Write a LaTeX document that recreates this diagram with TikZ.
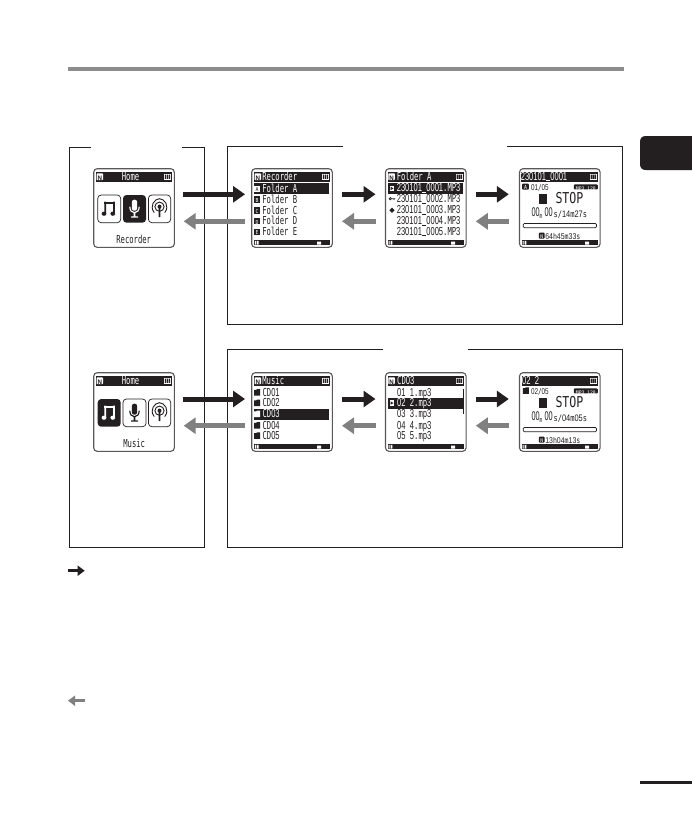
\documentclass[tikz,border=0pt]{standalone}
\usepackage{fontspec}
\usetikzlibrary{arrows.meta,calc}
\setmainfont{Liberation Sans}
\newfontfamily\lcdfam{DejaVu Sans Mono}
\newfontfamily\lcddig[Scale=1.05]{Liberation Sans}
\newcommand\D[1]{{\lcddig #1}}
\newcommand\us{\kern.05em\rule[-.5pt]{.5em}{.8pt}\kern.05em}
\newcommand\lcdsz[1]{\fontsize{#1}{#1}\selectfont\lcdfam}
\definecolor{ink}{HTML}{231F20}
\definecolor{midgray}{HTML}{808080}
\definecolor{rulegray}{HTML}{8C8C8C}
\newcounter{lcdn}
\tikzset{
  panel/.style={draw=ink,line width=0.8pt},
  screen/.style={draw=ink!75,line width=1.1pt,fill=white,rounded corners=3.5pt,minimum width=80.6pt,minimum height=78.6pt,inner sep=0pt,outer sep=0pt},
  lcdt/.style={inner sep=0pt,outer sep=0pt,anchor=mid west,yshift=-1pt,xscale=.655,text=ink,font=\lcdsz{11}},
  lcdc/.style={anchor=mid},
  onblack/.style={text=white},
  blkarr/.style={draw=ink,line width=5pt,-{Triangle[length=12pt,width=16pt]}},
  gryarr/.style={draw=midgray,line width=5pt,-{Triangle[length=12pt,width=16pt]}},
  blkleg/.style={draw=ink,line width=3.5pt,-{Triangle[length=7pt,width=10pt]}},
  gryleg/.style={draw=midgray,line width=3.5pt,-{Triangle[length=7pt,width=10pt]}},
  tile/.style={draw=ink,line width=.7pt,rounded corners=3.5pt},
}
% text placed inside a screen (xscale given in the options multiplies the base)
\newcommand\lcd[4][]{\stepcounter{lcdn}\node[lcdt,#1] (lcd\thelcdn) at (#2,#3) {#4};}
% N badge
\newcommand\nbadge[2]{\fill[white,rounded corners=.8pt] (#1,#2-3.4) rectangle (#1+6.6,#2+3.4);
  \lcd[lcdc,xscale=1.45,yshift=.3pt,font=\fontsize{6.5}{6.5}\selectfont\bfseries]{#1+3.3}{#2}{N}}
\newcommand\battery{\fill[white] (70,5) rectangle (77.4,11.2);
  \fill[ink] (71.2,6) rectangle (72.5,10.2) (73.2,6) rectangle (74.5,10.2) (75.2,6) rectangle (76.5,10.2);}
% title bar + battery
\newcommand\titlebar{\fill[ink] (2.3,3) rectangle (78,13.2);
  \nbadge{2.8}{8}
  \battery}
% bottom bar
\newcommand\botbar{\fill[ink] (2.3,71) rectangle (78,76.7);
  \fill[white] (3.2,72.2) rectangle (4.2,75.8) (5,72.2) rectangle (6.8,75.8) (65.5,73) rectangle (69.5,75.8);}
% letter icon for folders
\newcommand\letterbox[4]{\fill[#3] (2.4,#1-3.2) rectangle (8.3,#1+3.2);
  \lcd[lcdc,xscale=1.35,yshift=.4pt,font=\lcdsz{5.5},text=#4]{5.35}{#1}{#2}}
% little folder icon
\newcommand\foldicon[3]{\fill[#3] (#1,#2-2.6) -- (#1+2.2,#2-2.6) -- (#1+3,#2-3.4) -- (#1+6,#2-3.4) -- (#1+6,#2+3.2) -- (#1,#2+3.2) -- cycle;}
% home screen icons
\newcommand\noteicon[3]{\begin{scope}[shift={(#1,#2)}]
  \fill[#3] (-5,-7) rectangle (5.5,-4.4);
  \fill[#3] (-5,-7) rectangle (-3.3,5) (3.8,-7) rectangle (5.5,5);
  \fill[#3] (-5.4,5) ellipse (2.4 and 2.1) (3.4,5) ellipse (2.4 and 2.1);
\end{scope}}
\newcommand\micicon[3]{\begin{scope}[shift={(#1,#2)}]
  \fill[#3,rounded corners=2.4pt] (-2.7,-8) rectangle (2.7,3);
  \draw[#3,line width=1.2pt] (-4.7,-1) .. controls (-4.7,7) and (4.7,7) .. (4.7,-1);
  \fill[#3] (-.8,5) rectangle (.8,9) (-3.5,8.6) rectangle (3.5,10);
\end{scope}}
\newcommand\podicon[3]{\begin{scope}[shift={(#1,#2)}]
  \draw[#3,line width=.9pt] (0,-1.5) circle (4.6);
  \draw[#3,line width=.9pt] (-5.2,4.4) .. controls (-10.5,-2) and (-5,-9.5) .. (0,-9.5) .. controls (5,-9.5) and (10.5,-2) .. (5.2,4.4);
  \fill[#3] (0,-1.6) circle (2);
  \fill[#3] (-1,0) -- (1,0) -- (.9,9) -- (-.9,9) -- cycle;
\end{scope}}
% list rows
\def\rowa{20}\def\rowb{30.7}\def\rowc{41.7}\def\rowd{52.3}\def\rowe{63}
% stop screen body
\newcommand\stopbody[3]{%
  \lcd[font=\lcdsz{8},xscale=1.15]{11.5}{18}{#1}
  \fill[ink,rounded corners=1pt] (54.3,15.7) rectangle (78.4,20.7);
  \lcd[lcdc,font=\lcdsz{5},xscale=1.45,yshift=.5pt,text=white]{66.3}{18.2}{MP\D{3} \D{128}}
  \fill[ink] (19.7,25.3) rectangle (27,35.3);
  \lcd[font=\lcdsz{15},xscale=1.18,yshift=-.4pt]{36}{30.3}{STOP}
  \lcd[font=\lcdsz{12},xscale=.89]{12}{44.3}{\D{00}}
  \lcd[font=\lcdsz{7},xscale=1]{20.2}{45.7}{m}
  \lcd[font=\lcdsz{12},xscale=.89]{25}{44.3}{\D{00}}
  \lcd[font=\lcdsz{9},xscale=1.2]{34}{45}{#2}
  \draw[ink,line width=.7pt,rounded corners=1.2pt] (3.7,54.7) rectangle (77,59);
  \fill[ink,rounded corners=1pt] (19.3,63.8) rectangle (25.2,70);
  \lcd[lcdc,font=\lcdsz{5},xscale=1.45,yshift=.5pt,text=white]{22.2}{67}{N}
  \lcd[font=\lcdsz{8},xscale=1.26]{25.8}{67}{#3}
  \botbar}
\begin{document}
\begin{tikzpicture}[x=1pt,y=-1pt]
\useasboundingbox (0,0) rectangle (692,839);
% page furniture
\fill[rulegray] (68,67) rectangle (624,71);
\fill[ink] (692,136) -- (646,136) .. controls (642,136) and (640,138) .. (640,142) -- (640,164) .. controls (640,168) and (642,170) .. (646,170) -- (692,170) -- cycle;
\fill[ink] (640,780.5) rectangle (692,783.5);
% panels
\draw[panel] (90.7,147.3) -- (69.3,147.3) -- (69.3,547.3) -- (204.7,547.3) -- (204.7,147.3) -- (182,147.3);
\draw[panel] (342.7,146) -- (227.3,146) -- (227.3,324) -- (622.3,324) -- (622.3,146) -- (506.7,146);
\draw[panel] (383,349.3) -- (227.3,349.3) -- (227.3,547.3) -- (622.3,547.3) -- (622.3,349.3) -- (468,349.3);
% screens
\node[screen] (homeR) at (134,208) {};
\node[screen] (folders) at (292,208) {};
\node[screen] (files) at (425.8,208) {};
\node[screen] (stopR) at (559.8,208) {};
\node[screen] (homeM) at (134,412) {};
\node[screen] (discs) at (292,412) {};
\node[screen] (tracks) at (425.8,412) {};
\node[screen] (stopM) at (559.8,412) {};
% Home / Recorder
\begin{scope}[shift={(homeR.north west)}]
  \titlebar
  \lcd[lcdc,onblack]{36.8}{8}{Home}
  \draw[tile] (4,26.3) rectangle (27,54);
  \fill[ink,rounded corners=3.5pt] (29.3,26.3) rectangle (52.3,54);
  \draw[tile] (54.7,26.3) rectangle (77,54);
  \noteicon{15.7}{40}{ink}
  \micicon{40.8}{39}{white}
  \podicon{65.8}{39.5}{ink}
  \lcd[lcdc]{40}{70.7}{Recorder}
\end{scope}
% Home / Music
\begin{scope}[shift={(homeM.north west)}]
  \titlebar
  \lcd[lcdc,onblack]{36.8}{8}{Home}
  \fill[ink,rounded corners=3.5pt] (4,26.3) rectangle (27,54);
  \draw[tile] (29.3,26.3) rectangle (52.3,54);
  \draw[tile] (54.7,26.3) rectangle (77,54);
  \noteicon{15.7}{40}{white}
  \micicon{40.8}{39}{ink}
  \podicon{65.8}{39.5}{ink}
  \lcd[lcdc]{40.5}{70.7}{Music}
\end{scope}
% Recorder folders
\begin{scope}[shift={(folders.north west)}]
  \titlebar
  \lcd[onblack]{10.7}{8}{Recorder}
  \fill[ink] (2.3,14.7) rectangle (77,25.3);
  \letterbox{\rowa}{A}{white}{ink}
  \lcd[onblack]{10.7}{\rowa}{Folder A}
  \letterbox{\rowb}{B}{ink}{white}\lcd{10.7}{\rowb}{Folder B}
  \letterbox{\rowc}{C}{ink}{white}\lcd{10.7}{\rowc}{Folder C}
  \letterbox{\rowd}{D}{ink}{white}\lcd{10.7}{\rowd}{Folder D}
  \letterbox{\rowe}{E}{ink}{white}\lcd{10.7}{\rowe}{Folder E}
  \botbar
\end{scope}
% Folder A files
\begin{scope}[shift={(files.north west)}]
  \titlebar
  \lcd[onblack]{11.3}{8}{Folder A}
  \fill[ink] (2.3,14.2) rectangle (77.5,25);
  \fill[white] (4,17) rectangle (8.8,22.5);
  \fill[ink] (5,18) -- (8,19.7) -- (5,21.5) -- cycle;
  \lcd[onblack]{11.3}{19.6}{\D{230101}\us\D{0001}.MP\D{3}}
  \lcd{11.3}{30.5}{\D{230101}\us\D{0002}.MP\D{3}}
  \draw[ink,line width=.7pt] (4.8,30) circle (1.2) (6,30) -- (9.5,30) (8.5,30) -- (8.5,31.5);
  \lcd{11.3}{41.5}{\D{230101}\us\D{0003}.MP\D{3}}
  \fill[ink] (6.5,38.8) -- (9.2,41.5) -- (6.5,44.2) -- (3.8,41.5) -- cycle;
  \lcd{11.3}{52.5}{\D{230101}\us\D{0004}.MP\D{3}}
  \lcd{11.3}{63}{\D{230101}\us\D{0005}.MP\D{3}}
  \botbar
\end{scope}
% Recorder stop
\begin{scope}[shift={(stopR.north west)}]
  \fill[ink] (1.3,3) rectangle (78,13.2);
  \battery
  \lcd[onblack]{1.3}{8}{\D{230101}\us\D{0001}}
  \fill[ink,rounded corners=.8pt] (2.7,14.8) rectangle (9.3,21);
  \lcd[lcdc,font=\lcdsz{5.5},xscale=1.35,yshift=.4pt,text=white]{6}{18}{A}
  \stopbody{\D{01}/\D{05}}{s/\D{14}m\D{27}s}{\D{64}h\D{45}m\D{33}s}
\end{scope}
% Music folders
\begin{scope}[shift={(discs.north west)}]
  \titlebar
  \lcd[onblack]{10.7}{8}{Music}
  \foldicon{2.4}{19.7}{ink}\lcd{10.9}{19.7}{CD\D{01}}
  \foldicon{2.4}{30.3}{ink}\lcd{10.9}{30.3}{CD\D{02}}
  \fill[ink] (2.3,35.8) rectangle (77,47);
  \foldicon{2.4}{41.3}{white}\lcd[onblack]{10.9}{41.3}{CD\D{03}}
  \foldicon{2.4}{52.7}{ink}\lcd{10.9}{52.7}{CD\D{04}}
  \foldicon{2.4}{63}{ink}\lcd{10.9}{63}{CD\D{05}}
  \botbar
\end{scope}
% CD03 tracks
\begin{scope}[shift={(tracks.north west)}]
  \titlebar
  \lcd[onblack]{11.7}{8}{CD\D{03}}
  \lcd{11.7}{19.7}{\D{01} \D{1}.mp\D{3}}
  \fill[ink] (2.3,25) rectangle (77,36);
  \fill[white] (4,27.7) rectangle (8.8,33);
  \fill[ink] (5,28.7) -- (8,30.3) -- (5,32) -- cycle;
  \lcd[onblack]{11.7}{30.3}{\D{02} \D{2}.mp\D{3}}
  \lcd{11.7}{41.3}{\D{03} \D{3}.mp\D{3}}
  \lcd{11.7}{52.7}{\D{04} \D{4}.mp\D{3}}
  \lcd{11.7}{63}{\D{05} \D{5}.mp\D{3}}
  \fill[ink] (77.6,16.7) rectangle (78.4,41);
  \botbar
\end{scope}
% Music stop
\begin{scope}[shift={(stopM.north west)}]
  \fill[ink] (2.3,3) rectangle (78,13.2);
  \battery
  \lcd[onblack]{2.7}{8}{\D{02} \D{2}}
  \foldicon{3.4}{18}{ink}
  \stopbody{\D{02}/\D{05}}{s/\D{04}m\D{05}s}{\D{13}h\D{04}m\D{13}s}
\end{scope}
% arrows
\draw[blkarr] ([shift={(8.7,-13.7)}]homeR.east) -- ([shift={(-6.7,-13.7)}]folders.west);
\draw[gryarr] ([shift={(-6.7,13.3)}]folders.west) -- ([shift={(9.4,13.3)}]homeR.east);
\draw[blkarr] ([shift={(9.7,-13.7)}]folders.east) -- ([shift={(-10,-13.7)}]files.west);
\draw[gryarr] ([shift={(-10,13.3)}]files.west) -- ([shift={(9.7,13.3)}]folders.east);
\draw[blkarr] ([shift={(9.7,-13.7)}]files.east) -- ([shift={(-10.7,-13.7)}]stopR.west);
\draw[gryarr] ([shift={(-10.7,13.3)}]stopR.west) -- ([shift={(9.7,13.3)}]files.east);
\draw[blkarr] ([shift={(8.7,-13)}]homeM.east) -- ([shift={(-6.7,-13)}]discs.west);
\draw[gryarr] ([shift={(-6.7,13.7)}]discs.west) -- ([shift={(9.4,13.7)}]homeM.east);
\draw[blkarr] ([shift={(9.7,-13)}]discs.east) -- ([shift={(-10,-13)}]tracks.west);
\draw[gryarr] ([shift={(-10,13.7)}]tracks.west) -- ([shift={(9.7,13.7)}]discs.east);
\draw[blkarr] ([shift={(9.7,-13)}]tracks.east) -- ([shift={(-10.7,-13)}]stopM.west);
\draw[gryarr] ([shift={(-10.7,13.7)}]stopM.west) -- ([shift={(9.7,13.7)}]tracks.east);
% legend arrows
\coordinate (legAa) at (68,570.7);
\coordinate (legAb) at (84.7,570.7);
\coordinate (legBa) at (84.7,700.7);
\coordinate (legBb) at (68,700.7);
\draw[blkleg] (legAa) -- (legAb);
\draw[gryleg] (legBa) -- (legBb);
\end{tikzpicture}
\end{document}
